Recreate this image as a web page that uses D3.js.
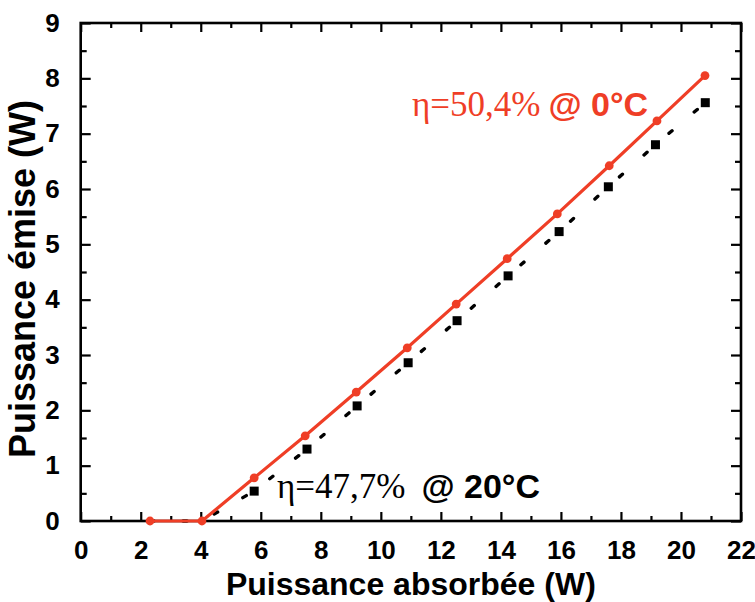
<!DOCTYPE html>
<html>
<head>
<meta charset="utf-8">
<script src="https://cdn.jsdelivr.net/npm/d3@7/dist/d3.min.js"></script>
<style>
  html, body { margin: 0; padding: 0; background: #fff; }
  svg { display: block; }
</style>
</head>
<body>
<div id="chart"></div>
<script>
// ---- data ----
const redX   = [2.31, 4.04, 5.78, 7.48, 9.18, 10.88, 12.51, 14.21, 15.88, 17.61, 19.20, 20.80];
const redY   = [0, 0, 0.78, 1.54, 2.33, 3.13, 3.92, 4.74, 5.55, 6.42, 7.23, 8.05];
const blackX = [2.31, 4.04, 5.78, 7.54, 9.21, 10.91, 12.54, 14.24, 15.94, 17.58, 19.15, 20.81];
const blackY = [0, 0, 0.54, 1.30, 2.08, 2.86, 3.62, 4.43, 5.23, 6.04, 6.80, 7.56];
const xTicks = [0, 2, 4, 6, 8, 10, 12, 14, 16, 18, 20, 22];
const yTicks = [0, 1, 2, 3, 4, 5, 6, 7, 8, 9];
const xTitle = "Puissance absorbée (W)";
const yTitle = "Puissance émise (W)";
const redLabel = ["η=50,4%", "@ 0°C"];
const blackLabel = ["η=47,7%", "@ 20°C"];

const W = 755, H = 602;
const m = {left: 80.7, right: 14, top: 23, bottom: 81};
const RED = "#ef3e26";

const svg = d3.select("#chart").append("svg").attr("width", W).attr("height", H);

const x = d3.scaleLinear().domain([0, 22]).range([m.left, W - m.right]);
const y = d3.scaleLinear().domain([0, 9]).range([H - m.bottom, m.top]);

const sans = "'Liberation Sans', Arial, sans-serif";
const serif = "'Liberation Serif', 'Times New Roman', serif";

const xMinor = d3.range(1, 22, 2);
const yMinor = d3.range(0.5, 9, 1);

function styleAxis(g) {
  g.select(".domain").remove();
  g.selectAll("line").attr("stroke", "#000").attr("stroke-width", 2.2);
  g.selectAll("text").attr("font-family", sans).attr("font-weight", "bold")
   .attr("font-size", 26).attr("fill", "#000");
}

// bottom axis (ticks inward)
svg.append("g").attr("transform", `translate(0,${y(0)})`)
  .call(d3.axisBottom(x).tickValues(xTicks).tickFormat(d3.format("d")).tickSizeInner(-9).tickSizeOuter(0).tickPadding(20))
  .call(styleAxis);
svg.append("g").attr("transform", `translate(0,${y(0)})`)
  .call(d3.axisBottom(x).tickValues(xMinor).tickFormat("").tickSizeInner(-5).tickSizeOuter(0))
  .call(styleAxis);
// top axis
svg.append("g").attr("transform", `translate(0,${y(9)})`)
  .call(d3.axisTop(x).tickValues(xTicks).tickFormat("").tickSizeInner(-9).tickSizeOuter(0))
  .call(styleAxis);
svg.append("g").attr("transform", `translate(0,${y(9)})`)
  .call(d3.axisTop(x).tickValues(xMinor).tickFormat("").tickSizeInner(-5).tickSizeOuter(0))
  .call(styleAxis);
// left axis
svg.append("g").attr("transform", `translate(${x(0)},0)`)
  .call(d3.axisLeft(y).tickValues(yTicks).tickFormat(d3.format("d")).tickSizeInner(-10).tickSizeOuter(0).tickPadding(21))
  .call(styleAxis);
svg.append("g").attr("transform", `translate(${x(0)},0)`)
  .call(d3.axisLeft(y).tickValues(yMinor).tickFormat("").tickSizeInner(-6).tickSizeOuter(0))
  .call(styleAxis);
// right axis
svg.append("g").attr("transform", `translate(${x(22)},0)`)
  .call(d3.axisRight(y).tickValues(yTicks).tickFormat("").tickSizeInner(-10).tickSizeOuter(0))
  .call(styleAxis);
svg.append("g").attr("transform", `translate(${x(22)},0)`)
  .call(d3.axisRight(y).tickValues(yMinor).tickFormat("").tickSizeInner(-6).tickSizeOuter(0))
  .call(styleAxis);

// frame
svg.append("rect").attr("x", x(0)).attr("y", y(9))
  .attr("width", x(22) - x(0)).attr("height", y(0) - y(9))
  .attr("fill", "none").attr("stroke", "#000").attr("stroke-width", 2.6);

const blackData = blackX.map((v, i) => ({x: v, y: blackY[i]}));
const redData = redX.map((v, i) => ({x: v, y: redY[i]}));
const line = d3.line().x(d => x(d.x)).y(d => y(d.y));

svg.append("path").datum(blackData).attr("d", line)
  .attr("fill", "none").attr("stroke", "#000").attr("stroke-width", 3.4)
  .attr("stroke-dasharray", "4,29").attr("stroke-linecap", "round");

const sq = 9;
svg.append("g").selectAll("rect").data(blackData.filter(d => d.y > 0)).join("rect")
  .attr("x", d => x(d.x) - sq / 2).attr("y", d => y(d.y) - sq / 2)
  .attr("width", sq).attr("height", sq).attr("fill", "#000");

svg.append("path").datum(redData).attr("d", line)
  .attr("fill", "none").attr("stroke", RED).attr("stroke-width", 3.2)
  .attr("stroke-linejoin", "round");
svg.append("g").selectAll("circle").data(redData).join("circle")
  .attr("cx", d => x(d.x)).attr("cy", d => y(d.y)).attr("r", 4.4).attr("fill", RED);

// annotations
const rt = svg.append("text").attr("x", 412).attr("y", 116).attr("fill", RED);
rt.append("tspan").attr("font-family", serif).attr("font-size", 35).text(redLabel[0]);
rt.append("tspan").attr("font-family", sans).attr("font-weight", "bold").attr("font-size", 34).attr("dx", 8).text(redLabel[1]);

const bt = svg.append("text").attr("x", 277).attr("y", 498).attr("fill", "#000");
bt.append("tspan").attr("font-family", serif).attr("font-size", 35).text(blackLabel[0]);
bt.append("tspan").attr("font-family", sans).attr("font-weight", "bold").attr("font-size", 34).attr("dx", 16).text(blackLabel[1]);

// axis titles
svg.append("text").attr("x", (x(0) + x(22)) / 2).attr("y", 595)
  .attr("text-anchor", "middle").attr("font-family", sans).attr("font-weight", "bold")
  .attr("font-size", 32).text(xTitle);
svg.append("text").attr("transform", `translate(35,${(y(0) + y(9)) / 2 + 7}) rotate(-90)`)
  .attr("text-anchor", "middle").attr("font-family", sans).attr("font-weight", "bold")
  .attr("font-size", 36).text(yTitle);
</script>
</body>
</html>
